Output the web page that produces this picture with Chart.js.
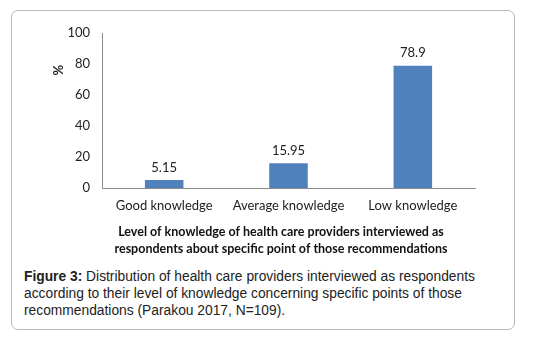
<!DOCTYPE html>
<html>
<head>
<meta charset="utf-8">
<script src="https://cdn.jsdelivr.net/npm/chart.js@4"></script>
<style>
  body { margin: 0; background: #fff; }
  #box {
    position: absolute; left: 11px; top: 10px; width: 502px; height: 318px;
    border: 1px solid #b8b8b8; border-radius: 7px;
  }
  #wrap { position: absolute; left: 0; top: 0; width: 502px; height: 250px; }
  #caption {
    position: absolute; left: 12px; top: 257px; width: 480px;
    font-family: "Liberation Sans", Arial, sans-serif; font-size: 13.8px; line-height: 17px; color: #222;
  }
</style>
</head>
<body>
<div id="box">
  <div id="wrap"><canvas id="bar-chart"></canvas></div>
  <div id="caption"><b>Figure 3:</b> Distribution of health care providers interviewed as respondents according to their level of knowledge concerning specific points of those recommendations (Parakou 2017, N=109).</div>
</div>
<script>
// categories and values
const categories = ['Good knowledge', 'Average knowledge', 'Low knowledge']
const percents = [5.15, 15.95, 78.9]
const valueLabels = ['5.15', '15.95', '78.9']
const yTicks = [0, 20, 40, 60, 80, 100]
const xTitle = ['Level of knowledge of health care providers interviewed as', 'respondents about specific point of those recommendations']

const fontName = 'Lato, "Open Sans", sans-serif'

// value above each bar, "%" near the top of the y axis, and the two-line x title
const labelPlugin = {
  id: 'labels',
  afterDatasetsDraw(chart) {
    const ctx = chart.ctx
    const meta = chart.getDatasetMeta(0)
    ctx.save()
    ctx.font = '13px ' + fontName
    ctx.fillStyle = '#222'
    ctx.textAlign = 'center'
    ctx.textBaseline = 'bottom'
    meta.data.forEach((bar, i) => {
      ctx.fillText(valueLabels[i], bar.x, bar.y - 6)
    })

    // x axis title, centred on the whole chart box like the original
    const x = chart.scales.x
    ctx.font = 'bold 12.5px ' + fontName
    ctx.fillStyle = '#111'
    ctx.textBaseline = 'middle'
    xTitle.forEach((line, i) => {
      ctx.fillText(line, chart.width / 2 + 18, x.top + 44 + i * 17)
    })

    const y = chart.scales.y
    ctx.translate(y.right - 43, y.getPixelForValue(76))
    ctx.rotate(-Math.PI / 2)
    ctx.font = 'bold 13px ' + fontName
    ctx.fillStyle = '#222'
    ctx.fillText('%', 0, 0)
    ctx.restore()
  }
}

const chartCanvas = document.querySelector('#bar-chart')
new Chart(chartCanvas, {
  type: 'bar',
  data: {
    labels: categories,
    datasets: [{
      data: percents,
      backgroundColor: '#4F81BD',
      categoryPercentage: 1,
      barPercentage: 0.31
    }]
  },
  options: {
    responsive: true,
    maintainAspectRatio: false,
    animation: false,
    layout: { padding: { left: 0, right: 39, top: 22, bottom: 0 } },
    plugins: {
      legend: { display: false },
      tooltip: { enabled: false }
    },
    scales: {
      x: {
        grid: { display: false, drawTicks: false },
        border: { color: '#8c8c8c' },
        ticks: { color: '#222', font: { size: 13, family: fontName }, padding: 10 },
        afterFit(scale) { scale.height = 73 }
      },
      y: {
        min: 0,
        max: 100,
        afterBuildTicks(scale) { scale.ticks = yTicks.map(v => ({ value: v })) },
        grid: { display: false, drawTicks: false },
        border: { color: '#8c8c8c' },
        ticks: { color: '#222', font: { size: 13, family: fontName }, padding: 12 },
        afterFit(scale) { scale.width = 90 }
      }
    }
  },
  plugins: [labelPlugin]
})
</script>
</body>
</html>
